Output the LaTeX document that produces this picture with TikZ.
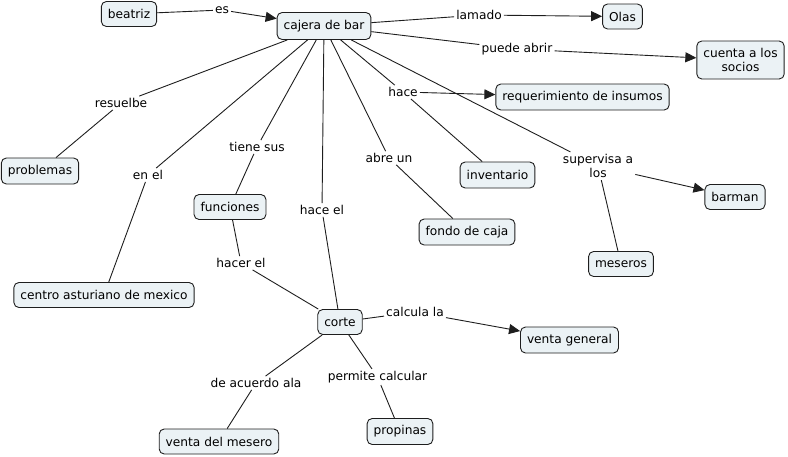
\documentclass[tikz,border=0pt]{standalone}
\usepackage{fontspec}
\setmainfont{DejaVu Sans}
\usetikzlibrary{arrows.meta}
\definecolor{cfill}{RGB}{235,242,245}
\definecolor{cline}{RGB}{30,30,30}
\begin{document}
\begin{tikzpicture}[x=1pt,y=-1pt,
  every node/.style={font=\fontsize{12.2}{14.4}\selectfont},
  concept/.style={draw=cline,fill=cfill,rounded corners=5pt,line width=0.9pt,inner xsep=6.5pt,inner ysep=3pt,minimum height=25pt,align=center},
  lbl/.style={inner sep=2pt,align=center},
  link/.style={draw=cline,line width=0.9pt},
  arr/.style={link,-{Triangle[length=11pt,width=10pt]}}]
\useasboundingbox (0,0) rectangle (788,456);
% concepts
\node[concept] (beatriz) at (129,14) {beatriz};
\node[concept,minimum height=27pt] (cajera) at (324,26) {cajera de bar};
\node[concept] (olas) at (622.5,16.5) {Olas};
\node[concept,minimum height=38pt,inner ysep=2pt] (cuenta) at (740.5,60) {cuenta a los\\socios};
\node[concept,minimum height=26pt] (req) at (582.5,97) {requerimiento de insumos};
\node[concept,minimum height=26pt] (problemas) at (40,171) {problemas};
\node[concept] (funciones) at (230,207) {funciones};
\node[concept,minimum height=26pt] (inventario) at (497.5,175) {inventario};
\node[concept,minimum height=26pt] (fondo) at (467,232) {fondo de caja};
\node[concept] (barman) at (735,197) {barman};
\node[concept] (meseros) at (621,264) {meseros};
\node[concept] (centro) at (104,295) {centro asturiano de mexico};
\node[concept] (corte) at (340,322) {corte};
\node[concept,minimum height=26pt] (ventagen) at (569.5,340) {venta general};
\node[concept] (ventamesero) at (219,441.5) {venta del mesero};
\node[concept,minimum height=26pt] (propinas) at (400,431.5) {propinas};
% labels
\node[lbl] (es) at (222,10) {es};
\node[lbl] (lamado) at (479,15) {lamado};
\node[lbl] (puede) at (517,49) {puede abrir};
\node[lbl] (hace) at (403,92) {hace};
\node[lbl] (resuelbe) at (121,103) {resuelbe};
\node[lbl] (tiene) at (257,147) {tiene sus};
\node[lbl] (enel) at (148,175) {en el};
\node[lbl] (abre) at (389,158) {abre un};
\node[lbl] (supervisa) at (598,166) {supervisa a\\los};
\node[lbl] (haceel) at (322,210) {hace el};
\node[lbl] (hacerel) at (241,263) {hacer el};
\node[lbl] (calcula) at (415,312) {calcula la};
\node[lbl] (acuerdo) at (256,383) {de acuerdo ala};
\node[lbl] (permite) at (377.5,377) {permite calcular};
% connectors
\draw[link] (beatriz) -- (es);
\draw[arr] (es) -- (cajera);
\draw[link] (cajera) -- (lamado);
\draw[arr] (lamado) -- (olas);
\draw[link] (cajera) -- (puede);
\draw[arr] (puede) -- (cuenta);
\draw[link] (cajera) -- (hace);
\draw[arr] (hace) -- (req);
\draw[link] (hace) -- (inventario);
\draw[link] (cajera) -- (resuelbe);
\draw[link] (resuelbe) -- (problemas);
\draw[link] (cajera) -- (enel);
\draw[link] (enel) -- (centro);
\draw[link] (cajera) -- (tiene);
\draw[link] (tiene) -- (funciones);
\draw[link] (funciones) -- (hacerel);
\draw[link] (hacerel) -- (corte);
\draw[link] (cajera) -- (haceel);
\draw[link] (haceel) -- (corte);
\draw[link] (cajera) -- (abre);
\draw[link] (abre) -- (fondo);
\draw[link] (cajera) -- (supervisa);
\draw[arr] (supervisa) -- (barman);
\draw[link] (supervisa) -- (meseros);
\draw[link] (corte) -- (calcula);
\draw[arr] (calcula) -- (ventagen);
\draw[link] (corte) -- (acuerdo);
\draw[link] (acuerdo) -- (ventamesero);
\draw[link] (corte) -- (permite);
\draw[link] (permite) -- (propinas);
\end{tikzpicture}
\end{document}
